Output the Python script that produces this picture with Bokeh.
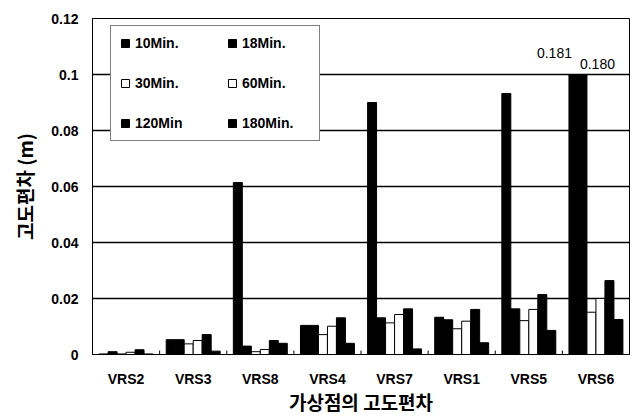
import numpy as np
from bokeh.plotting import figure
from bokeh.models import FactorRange, Range1d, FixedTicker, ColumnDataSource
from bokeh.transform import dodge
from bokeh.core.properties import value
from bokeh.embed import file_html
from bokeh.resources import INLINE

categories = ["VRS2", "VRS3", "VRS8", "VRS4", "VRS7", "VRS1", "VRS5", "VRS6"]
series_names = ["10Min.", "18Min.", "30Min.", "60Min.", "120Min", "180Min."]
m10 = [0.0002, 0.0053, 0.0614, 0.0104, 0.0900, 0.0133, 0.0932, 0.181]
m18 = [0.0010, 0.0053, 0.0030, 0.0104, 0.0131, 0.0124, 0.0163, 0.180]
m30 = [0.0002, 0.0038, 0.0010, 0.0071, 0.0113, 0.0092, 0.0121, 0.0151]
m60 = [0.0008, 0.0050, 0.0018, 0.0101, 0.0143, 0.0119, 0.0161, 0.0200]
m120 = [0.0017, 0.0071, 0.0050, 0.0131, 0.0163, 0.0161, 0.0214, 0.0264]
m180 = [0.0002, 0.0012, 0.0040, 0.0040, 0.0020, 0.0042, 0.0086, 0.0125]
series = [m10, m18, m30, m60, m120, m180]
series_fill = ["black", "black", "white", "white", "black", "black"]

ytick_vals = [0, 0.02, 0.04, 0.06, 0.08, 0.1, 0.12]
ytick_labels = ["0", "0.02", "0.04", "0.06", "0.08", "0.1", "0.12"]
y_clip = 0.1

bar_w = 0.134
offsets = [(-2.5 + i) * bar_w for i in range(6)]

p = figure(x_range=FactorRange(*categories), y_range=Range1d(0, 0.12),
           width=633, height=418, output_backend="svg", toolbar_location=None,
           min_border_left=92, min_border_top=18, min_border_right=4, min_border_bottom=64)

for vals, name, fill, off in zip(series, series_names, series_fill, offsets):
    src = ColumnDataSource(dict(x=categories, top=np.minimum(vals, y_clip)))
    p.vbar(x=dodge("x", off, range=p.x_range), top="top", width=bar_w, source=src,
           fill_color=fill, line_color="black", line_width=1, legend_label=name)

# small separator ticks between category groups
tick_len = 0.0014
sep = ColumnDataSource(dict(x=categories, y0=[0] * len(categories), y1=[tick_len] * len(categories)))
p.segment(x0=dodge("x", -0.5, range=p.x_range), x1=dodge("x", -0.5, range=p.x_range),
          y0="y0", y1="y1", source=sep, line_color="black", line_width=1)

# labels for clipped bars
lab_dx = [-19, 15]
lab_dy = [-22, -11]
k = 0
for vals, off in zip(series, offsets):
    for cat, v in zip(categories, vals):
        if v > y_clip:
            src = ColumnDataSource(dict(x=[cat], y=[y_clip], t=[f"{v:.3f}"]))
            p.text(x=dodge("x", off, range=p.x_range), y="y", text="t", source=src,
                   x_offset=lab_dx[k], y_offset=lab_dy[k], text_align="center",
                   text_baseline="alphabetic", text_font=value("Liberation Sans"),
                   text_font_size="14px", text_color="black")
            k += 1

p.ygrid.grid_line_color = "black"
p.ygrid.grid_line_width = 1.5
p.xgrid.grid_line_color = None
p.outline_line_color = "black"
p.outline_line_width = 1
p.background_fill_color = "white"
p.border_fill_color = "white"

p.yaxis.ticker = FixedTicker(ticks=ytick_vals)
p.yaxis.major_label_overrides = {v: s for v, s in zip(ytick_vals, ytick_labels)}
p.yaxis.major_tick_line_color = None
p.yaxis.minor_tick_line_color = None
p.yaxis.major_tick_out = 0
p.yaxis.major_label_standoff = 14
p.yaxis.axis_line_color = "black"
p.yaxis.major_label_text_font = "Liberation Sans"
p.yaxis.major_label_text_font_style = "bold"
p.yaxis.major_label_text_font_size = "14px"
p.yaxis.major_label_text_color = "black"
p.yaxis.axis_label = "고도편차 (m)"
p.yaxis.axis_label_text_font = "Noto Sans CJK KR"
p.yaxis.axis_label_text_font_style = "bold"
p.yaxis.axis_label_text_font_size = "19px"
p.yaxis.axis_label_text_color = "black"
p.yaxis.axis_label_standoff = 10

p.xaxis.major_tick_line_color = None
p.xaxis.major_tick_out = 0
p.xaxis.major_label_standoff = 16
p.xaxis.axis_line_color = "black"
p.xaxis.major_label_text_font = "Liberation Sans"
p.xaxis.major_label_text_font_style = "bold"
p.xaxis.major_label_text_font_size = "14px"
p.xaxis.major_label_text_color = "black"
p.xaxis.axis_label = "가상점의 고도편차"
p.xaxis.axis_label_text_font = "Noto Sans CJK KR"
p.xaxis.axis_label_text_font_style = "bold"
p.xaxis.axis_label_text_font_size = "19px"
p.xaxis.axis_label_text_color = "black"
p.xaxis.axis_label_standoff = -2

lg = p.legend[0]
lg.orientation = "horizontal"
lg.ncols = 2
lg.location = (18, 213)
lg.border_line_color = "black"
lg.border_line_width = 1.5
lg.background_fill_color = "white"
lg.background_fill_alpha = 1
lg.padding = 9
lg.spacing = 24
lg.glyph_width = 10
lg.glyph_height = 10
lg.label_standoff = 5
lg.label_width = 68
lg.label_height = 14
lg.label_text_font = "Liberation Sans"
lg.label_text_font_style = "bold"
lg.label_text_font_size = "14px"
lg.label_text_color = "black"
lg.margin = 0

open("out.html", "w").write(file_html(p, INLINE))
